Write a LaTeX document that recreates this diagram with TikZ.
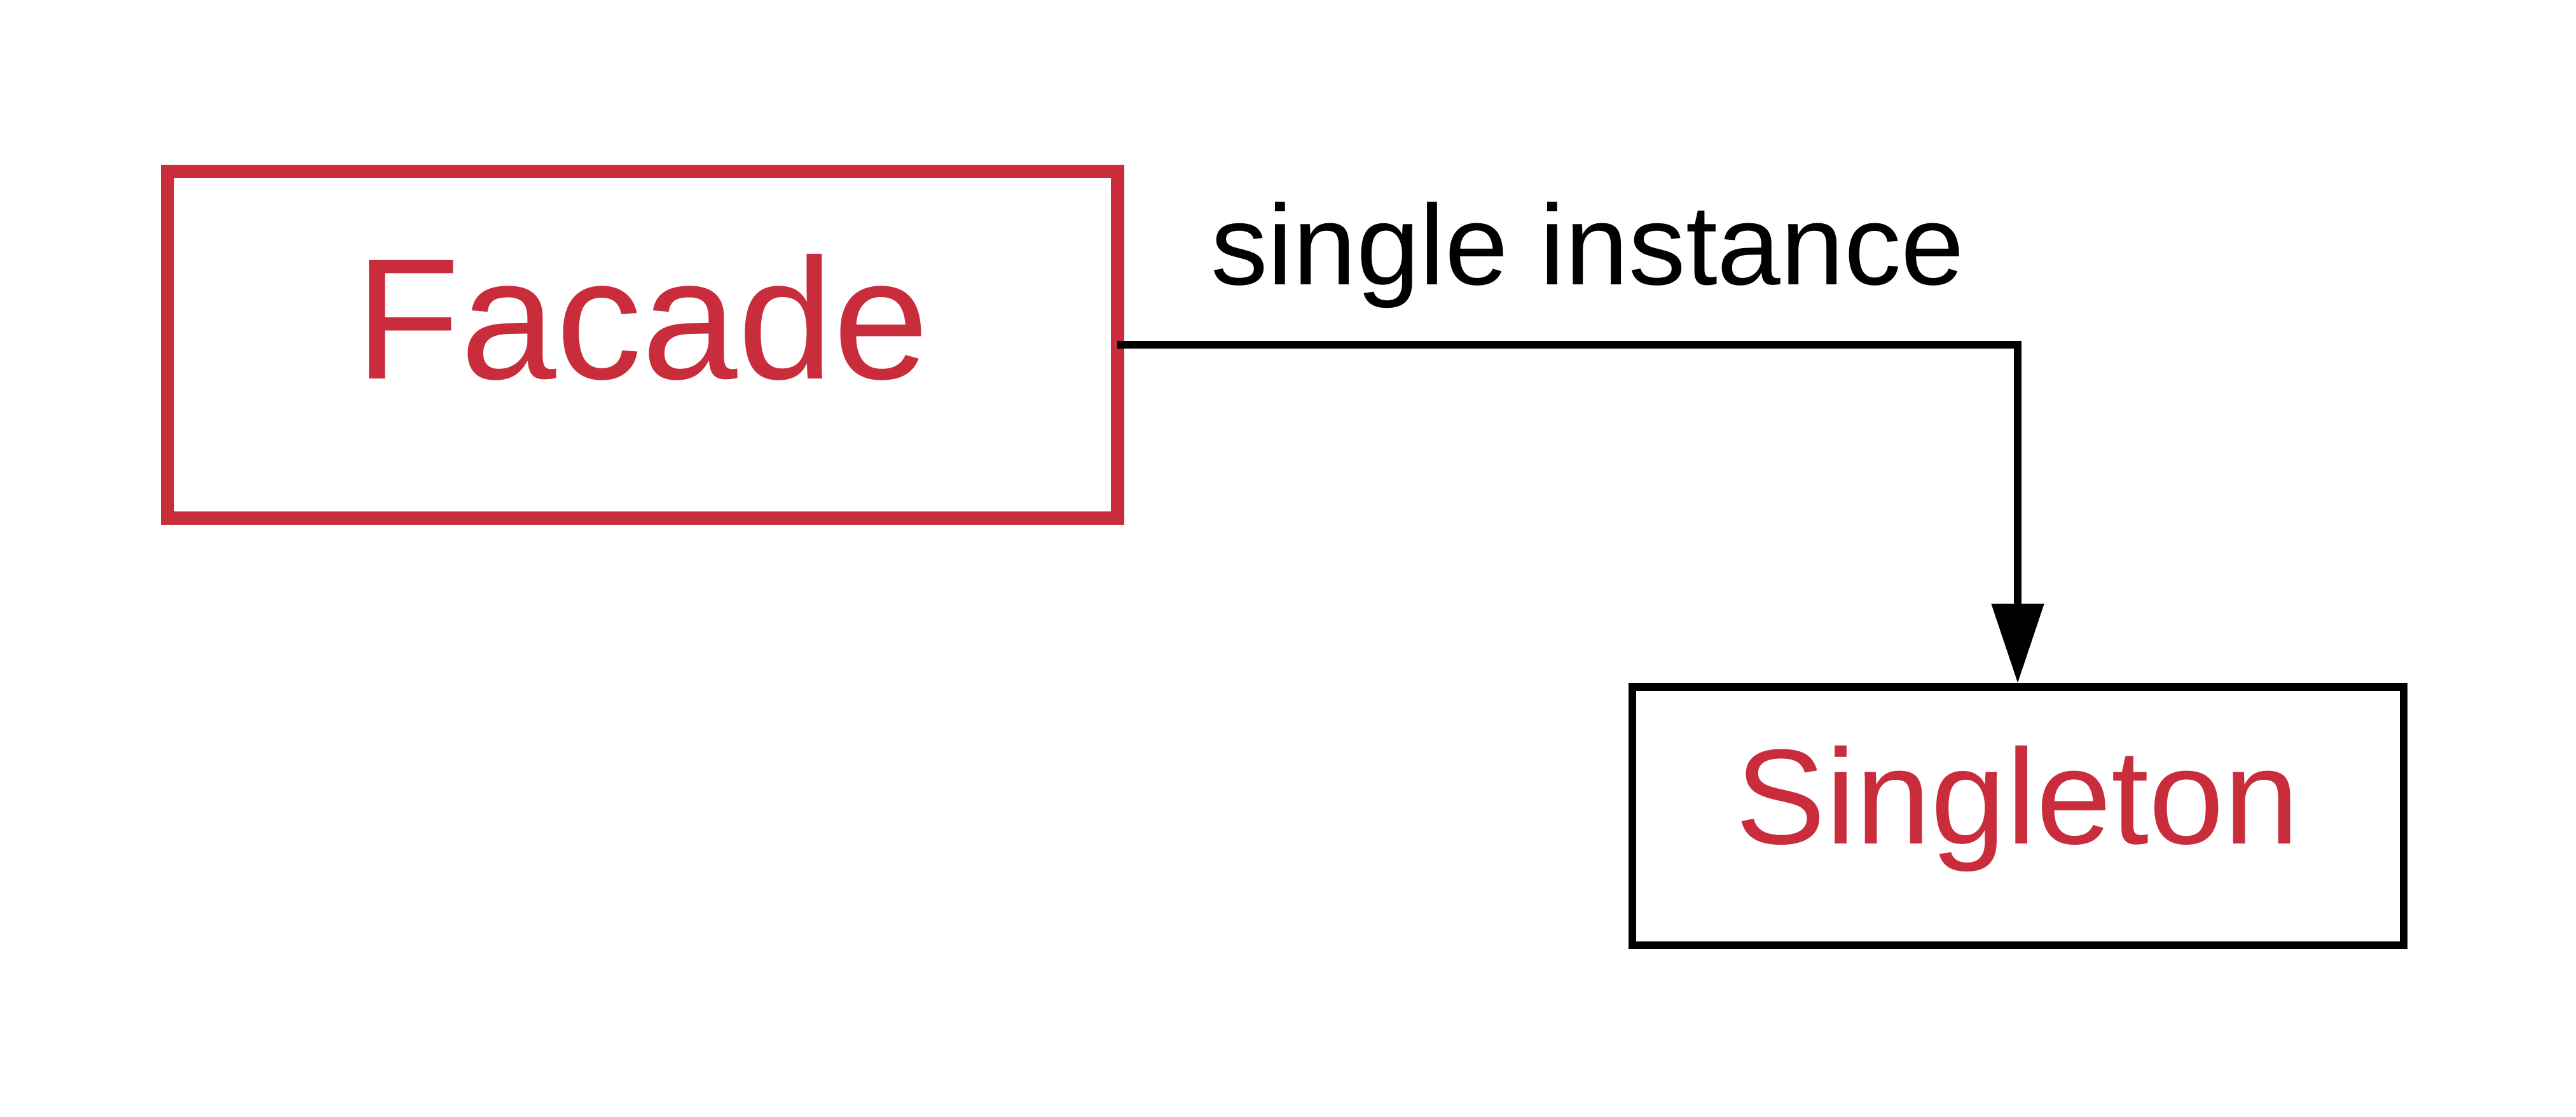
\documentclass[tikz,border=0pt]{standalone}
\usepackage{fontspec}
\setmainfont{Liberation Sans}
\usetikzlibrary{arrows.meta}
\definecolor{classred}{HTML}{C92D3C}

\begin{document}
\begin{tikzpicture}[
    classbox/.style={rectangle, draw=black, line width=0.12cm, text=classred, inner sep=0pt},
    mainclass/.style={classbox, draw=classred, line width=0.21cm, outer sep=0pt,
      minimum width=14.94cm, minimum height=5.44cm, text height=1.08cm, text depth=0pt,
      font=\fontsize{77}{84}\selectfont},
    subclass/.style={classbox, minimum width=12.13cm, minimum height=4.06cm,
      text height=0.86cm, text depth=0pt, font=\fontsize{60.5}{66}\selectfont},
    uses/.style={line width=0.12cm, -{Triangle[length=1.25cm, width=0.8cm]}},
    uselabel/.style={anchor=base, font=\fontsize{51}{56}\selectfont}
  ]
  \useasboundingbox (0,0) rectangle (40.51,-17.56);

  \node[mainclass] (facade) at (10.10,-5.42) {Facade};
  \node[subclass] (singleton) at (31.73,-12.83) {Singleton};

  \draw[uses] (facade.east) -| (singleton.north);
  \node[uselabel] (instlabel) at (24.97,-4.48) {single instance};
\end{tikzpicture}
\end{document}
